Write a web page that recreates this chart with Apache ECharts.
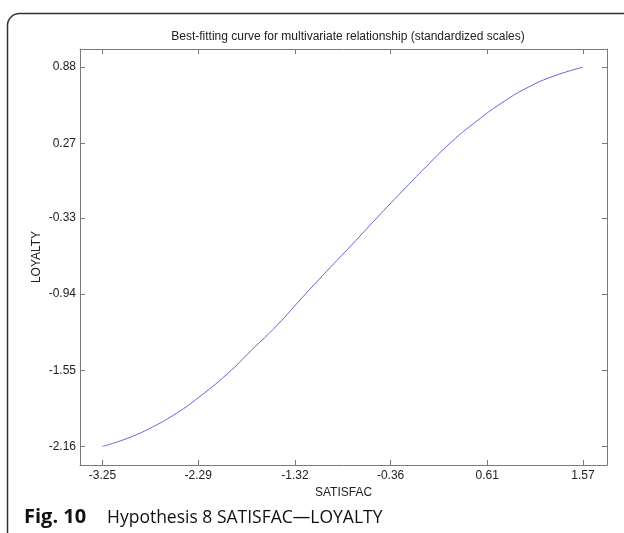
<!DOCTYPE html>
<html>
<head>
<meta charset="utf-8">
<script src="https://cdn.jsdelivr.net/npm/echarts@6/dist/echarts.min.js"></script>
<style>
  html, body { margin: 0; padding: 0; background: #fff; }
  #chart { width: 624px; height: 533px; }
</style>
</head>
<body>
<div id="chart"></div>
<script>
// values (standardized scales)
var satisfac = [-3.25, -3.00, -2.75, -2.50, -2.29, -2.00, -1.75, -1.50, -1.25, -1.00,
                -0.75, -0.50, -0.25, 0.00, 0.25, 0.50, 0.75, 1.00, 1.25, 1.57];
var loyalty  = [-2.16, -2.095, -2.005, -1.89, -1.77, -1.58, -1.385, -1.19, -0.97, -0.755,
                -0.545, -0.33, -0.12, 0.085, 0.28, 0.445, 0.59, 0.71, 0.80, 0.88];
var xTicks = [-3.25, -2.29, -1.32, -0.36, 0.61, 1.57];
var yTicks = [-2.16, -1.55, -0.94, -0.33, 0.27, 0.88];

var chartElement = document.getElementById('chart');
var chart = echarts.init(chartElement, null, { renderer: 'canvas' });

var curve = satisfac.map(function (x, i) { return [x, loyalty[i]]; });

var axisFont = { fontFamily: 'Liberation Sans', fontSize: 12, color: '#222' };
var lineGray = '#7a7a7a';

function xAxisOf(pos, withLabels) {
    return {
        type: 'value',
        position: pos,
        min: -3.476,
        max: 1.811,
        name: withLabels ? 'SATISFAC' : '',
        nameLocation: 'middle',
        nameGap: 21,
        nameTextStyle: axisFont,
        splitLine: { show: false },
        axisLine: { show: true, onZero: false, lineStyle: { color: lineGray, width: 1 } },
        axisTick: { show: true, inside: true, length: 5, customValues: xTicks,
                    lineStyle: { color: lineGray } },
        axisLabel: { show: withLabels, customValues: xTicks, margin: 5,
                     formatter: function (v) { return v.toFixed(2); },
                     fontFamily: axisFont.fontFamily, fontSize: 12, color: '#222' }
    };
}

function yAxisOf(pos, withLabels) {
    return {
        type: 'value',
        position: pos,
        min: -2.309,
        max: 1.025,
        name: withLabels ? 'LOYALTY' : '',
        nameLocation: 'middle',
        nameGap: 37,
        nameMoveOverlap: false,
        nameRotate: 90,
        nameTextStyle: axisFont,
        splitLine: { show: false },
        axisLine: { show: true, onZero: false, lineStyle: { color: lineGray, width: 1 } },
        axisTick: { show: true, inside: true, length: 5, customValues: yTicks,
                    lineStyle: { color: lineGray } },
        axisLabel: { show: withLabels, customValues: yTicks, margin: 4,
                     formatter: function (v) { return v.toFixed(2); },
                     fontFamily: axisFont.fontFamily, fontSize: 12, color: '#222' }
    };
}

var option = {
    backgroundColor: '#fff',
    animation: false,
    title: {
        text: 'Best-fitting curve for multivariate relationship (standardized scales)',
        left: 343,
        top: 26,
        textAlign: 'center',
        textStyle: { fontFamily: 'Liberation Sans', fontSize: 12, fontWeight: 'normal', color: '#222' }
    },
    grid: {
        left: 80,
        right: 17,
        top: 49,
        bottom: 68,
        containLabel: false
    },
    xAxis: [xAxisOf('bottom', true), xAxisOf('top', false)],
    yAxis: [yAxisOf('left', true), yAxisOf('right', false)],
    series: [
        {
            type: 'line',
            data: curve,
            smooth: true,
            showSymbol: false,
            lineStyle: { color: '#6464dc', width: 1 }
        }
    ],
    graphic: [
        {
            type: 'rect',
            shape: { x: 7.5, y: 13.5, width: 700, height: 700, r: 12 },
            style: { fill: 'none', stroke: '#333', lineWidth: 1.5 },
            silent: true
        },
        {
            type: 'text',
            left: 24,
            top: 507,
            style: {
                text: 'Fig. 10',
                font: 'bold 20px "Open Sans"',
                fill: '#111'
            }
        },
        {
            type: 'text',
            left: 107,
            top: 509,
            style: {
                text: 'Hypothesis 8 SATISFAC\u2014LOYALTY',
                font: '17.5px "Open Sans"',
                fill: '#111'
            }
        }
    ]
};

chart.setOption(option);

window.onresize = function () {
    chart.resize();
};
</script>
</body>
</html>
